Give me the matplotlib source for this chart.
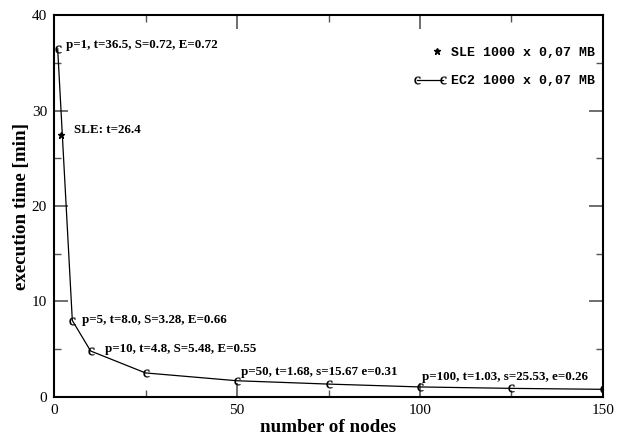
import matplotlib
matplotlib.use('Agg')
import matplotlib.pyplot as plt
from matplotlib.legend_handler import HandlerLine2D
from matplotlib.ticker import MultipleLocator

plt.rcParams['mathtext.fontset'] = 'custom'
plt.rcParams['mathtext.rm'] = 'Liberation Serif'

# EC2 runs: number of nodes vs execution time [min]
nodes = [1, 5, 10, 25, 50, 75, 100, 125, 150]
times = [36.5, 8.0, 4.8, 2.5, 1.68, 1.33, 1.03, 0.88, 0.78]

# single SLE run
sle_nodes = [2]
sle_times = [27.5]

# annotations: (x, y, text, dx, dy) offsets in points
labels = [
    (1, 36.5, 'p=1, t=36.5, S=0.72, E=0.72', 5.8, 3.0),
    (5, 8.0, 'p=5, t=8.0, S=3.28, E=0.66', 6.8, 0.5),
    (10, 4.8, 'p=10, t=4.8, S=5.48, E=0.55', 10.0, 1.5),
    (50, 1.68, 'p=50, t=1.68, s=15.67 e=0.31', 3.0, 6.5),
    (100, 1.03, 'p=100, t=1.03, s=25.53, e=0.26', 1.2, 7.0),
]
sle_label = 'SLE: t=26.4'


class RightMarker(HandlerLine2D):
    # put the single legend symbol near the right end of the handle
    def get_xdata(self, legend, xdescent, ydescent, width, height, fontsize):
        x = -xdescent + width - 0.75 * fontsize
        return [x], [x]


fig = plt.figure(figsize=(6.21, 4.36), dpi=100)
ax = fig.add_axes([0.087, 0.09, 0.884, 0.8745])

sle_line, = ax.plot(sle_nodes, sle_times, linestyle='none', marker='*', markersize=5,
                    color='black', label='SLE 1000 x 0,07 MB')
ec2_line, = ax.plot(nodes, times, color='black', linewidth=0.9, marker='$\\mathrm{c}$',
                    markersize=5.5, markeredgewidth=0.2, label='EC2 1000 x 0,07 MB')

bold = dict(family='Liberation Serif', weight='bold', size=9.4)
for x, y, txt, dx, dy in labels:
    ax.annotate(txt, xy=(x, y), xytext=(dx, dy), textcoords='offset points',
                ha='left', va='center', **bold)
ax.annotate(sle_label, xy=(sle_nodes[0], sle_times[0]), xytext=(9, 3),
            textcoords='offset points', ha='left', va='center', **bold)

ax.set_xlim(0, 150)
ax.set_ylim(0, 40)
ax.xaxis.set_major_locator(MultipleLocator(50))
ax.xaxis.set_minor_locator(MultipleLocator(25))
ax.yaxis.set_major_locator(MultipleLocator(10))
ax.yaxis.set_minor_locator(MultipleLocator(5))
ax.tick_params(which='both', direction='in', top=True, right=True, color='#555555')
ax.tick_params(which='major', length=10, width=1.2, pad=5, labelsize=11)
ax.tick_params(which='minor', length=5, width=1.0)
for lab in ax.get_xticklabels() + ax.get_yticklabels():
    lab.set_family('Liberation Serif')
for s in ax.spines.values():
    s.set_linewidth(1.5)

ax.set_xlabel('number of nodes', family='Liberation Serif', weight='bold',
              size=13.7, labelpad=2)
ax.set_ylabel('execution time [min]', family='Liberation Serif', weight='bold',
              size=13.7, labelpad=1)

ax.legend(handles=[sle_line, ec2_line], loc='upper right', frameon=False,
          bbox_to_anchor=(1.0, 0.94),
          prop=dict(family='Liberation Mono', weight='bold', size=9.5),
          numpoints=2, handlelength=2.6, handletextpad=0.3, labelspacing=1.25,
          borderaxespad=0.2, handler_map={sle_line: RightMarker()})

plt.savefig('out.png', dpi=100)
